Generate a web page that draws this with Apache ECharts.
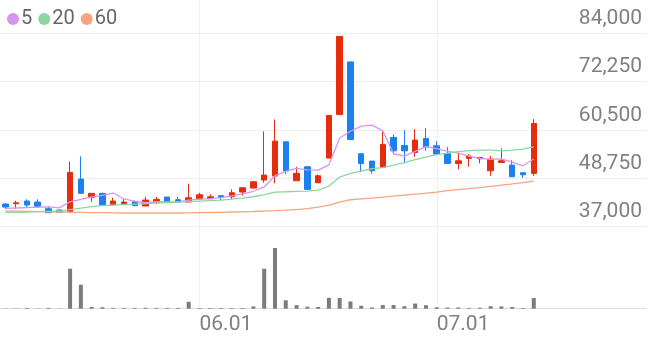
<!DOCTYPE html>
<html><head><meta charset="utf-8">
<script src="https://cdn.jsdelivr.net/npm/echarts@6/dist/echarts.min.js"></script>
<style>html,body{margin:0;padding:0;background:#fff}#c{width:647px;height:337px}</style>
</head><body><div id="c"></div>
<script>
const dates = ['05.04','05.06','05.07','05.10','05.11','05.12','05.13','05.14','05.17','05.18','05.20','05.21','05.24','05.25','05.26','05.27','05.28','05.31',
'06.01','06.02','06.03','06.04','06.07','06.08','06.09','06.10','06.11','06.14','06.15','06.16','06.17','06.18','06.21','06.22','06.23','06.24','06.25','06.28','06.29','06.30',
'07.01','07.02','07.05','07.06','07.07','07.08','07.09','07.12','07.13','07.14'];
const futureDates = ['07.15','07.16','07.19','07.20','07.21','07.22','07.23','07.26','07.27','07.28'];
const openP  = [42360,42440,43100,42850,41220,40900,40490,48460,44000,44970,42190,42440,42920,41880,42850,44070,43410,42850,43580,43660,44390,44140,45290,46260,48220,49190,57550,48040,51460,47560,53580,64200,77060,54630,52850,51310,58620,56670,54970,58380,56580,54720,52290,53500,53410,50480,52530,51870,50000,49850];
const closeP = [41630,42680,42120,41800,40240,40340,50090,44970,44970,42120,43100,42850,41950,43340,43510,42920,42850,43900,44630,44140,44000,45120,46340,47800,49430,57720,50480,49850,45950,49260,63990,83300,58140,52290,50480,56920,55360,55360,57970,56330,54550,52290,52920,54070,53740,53330,52920,49020,49510,62040];
const lowP   = [41140,41140,41560,41390,40170,40340,40340,44970,42920,42120,42190,42440,41950,41880,42440,42920,42850,42850,43580,43660,43340,43510,44390,46260,47560,47410,49680,48040,45950,47560,53580,64200,58140,50170,49750,51310,54480,52290,53900,55360,54550,52290,50820,51460,52290,49260,52530,49020,48700,49260];
const highP  = [42600,43170,43510,43510,41880,40970,52770,54000,44970,45120,43900,43580,43260,44070,44070,44070,44070,47310,45120,44730,44560,45950,46420,47880,60090,63010,57550,51460,51700,49600,64000,83300,77060,54630,52850,59990,59360,60400,60650,60890,57720,56330,54870,54550,53740,54070,55940,53090,50000,63090];
const volume = [3000,3000,8000,3000,8000,3000,405000,243000,18000,15000,8000,8000,8000,10000,8000,8000,8000,70000,7000,7000,7000,7000,7000,23000,405000,615000,85000,36000,20000,17000,110000,108000,73000,30000,13000,37000,37000,25000,52000,35000,15000,12000,13000,8000,10000,25000,23000,18000,7000,108000];
const ma5  = [41300,41400,41500,41600,41694,41436,42918,43488,44122,44498,45050,43602,42998,42672,42950,42914,42914,43304,43562,43688,43904,44358,44846,45480,46538,49282,50354,51056,50686,50652,51906,58470,60128,61396,61640,60226,54638,54082,55218,56388,55914,55300,54812,54032,53514,53270,53396,52616,51704,53364];
const ma20 = [40243,40340,40413,40486,40584,40657,41023,41388,41754,41998,42120,42242,42364,42486,42607,42729,42851,42973,43095,43217,43339,43583,43826,44143,44680,45289,45362,45460,45533,45777,46752,48946,49848,50409,51019,51262,51872,52481,53213,53822,54432,54797,55163,55407,55529,55529,55358,55529,55773,56333];
const ma60 = [40657,40608,40559,40511,40462,40413,40364,40316,40267,40243,40218,40169,40169,40169,40169,40169,40169,40194,40243,40291,40340,40413,40462,40535,40633,40730,40852,41023,41267,41632,42120,42851,43412,43632,43826,44070,44314,44558,44802,45045,45289,45655,45899,46143,46387,46679,46996,47288,47605,47971];
const priceTicks = [37000,48750,60500,72250,84000];
const xTickLabels = ['06.01','07.01'];

const cats = dates.concat(futureDates);
const candleData = dates.map((d,i)=>[openP[i],closeP[i],lowP[i],highP[i]]);
const UP='#e62c0c', DOWN='#1b80f0';
const FONT='Roboto, "Noto Sans", sans-serif';
const chart = echarts.init(document.getElementById('c'), null, {renderer:'canvas'});
const showTick = (i,v)=>xTickLabels.indexOf(v)>=0;
chart.setOption({
  animation:false,
  legend:{left:2,top:4,icon:'circle',itemWidth:12,itemHeight:12,itemGap:6,
    textStyle:{fontSize:20,color:'#666',fontFamily:FONT,padding:[0,0,0,-3]},
    data:['5','20','60']},
  grid:[
    {left:0,right:0,top:33.5,height:192.5},
    {left:0,right:0,top:248,height:60.7},
    {left:5.7,right:5.5,top:0,height:308.7}
  ],
  xAxis:[
    {type:'category',gridIndex:0,data:cats,boundaryGap:true,axisLine:{show:false},axisTick:{show:false},axisLabel:{show:false},splitLine:{show:false}},
    {type:'category',gridIndex:1,data:cats,boundaryGap:true,axisLine:{show:true,lineStyle:{color:'#dddddd'}},axisTick:{show:false},
      axisLabel:{show:true,interval:showTick,align:'left',fontSize:21,color:'#808080',fontFamily:FONT,margin:6},splitLine:{show:false}},
    {type:'category',gridIndex:2,data:cats,boundaryGap:false,axisLine:{show:false},axisTick:{show:false},axisLabel:{show:false},
      splitLine:{show:true,interval:showTick,lineStyle:{color:'#efefef',width:1}}}
  ],
  yAxis:[
    {type:'value',gridIndex:0,position:'right',min:priceTicks[0],max:priceTicks[priceTicks.length-1],interval:priceTicks[1]-priceTicks[0],
      axisLine:{show:false},axisTick:{show:false},
      axisLabel:{inside:true,fontSize:21,color:'#808080',fontFamily:FONT,verticalAlign:'bottom',margin:5,padding:[0,0,4,0],
        formatter:v=>Math.round(v).toLocaleString('en-US')},
      splitLine:{show:true,lineStyle:{color:'#efefef',width:1}}},
    {type:'value',gridIndex:1,min:0,max:Math.max(...volume),show:false,splitLine:{show:false}},
    {type:'value',gridIndex:2,show:false,splitLine:{show:false}}
  ],
  series:[
    {type:'candlestick',name:'price',xAxisIndex:0,yAxisIndex:0,data:candleData,barWidth:6,
      itemStyle:{color:UP,color0:DOWN,borderColor:UP,borderColor0:DOWN,borderWidth:1}},
    {type:'line',name:'5',xAxisIndex:0,yAxisIndex:0,data:ma5,symbol:'none',color:'#d795f2',lineStyle:{width:1.3,color:'#d795f2'}},
    {type:'line',name:'20',xAxisIndex:0,yAxisIndex:0,data:ma20,symbol:'none',color:'#8ad89f',lineStyle:{width:1.3,color:'#8ad89f'}},
    {type:'line',name:'60',xAxisIndex:0,yAxisIndex:0,data:ma60,symbol:'none',color:'#f7a57f',lineStyle:{width:1.3,color:'#f7a57f'}},
    {type:'bar',name:'vol',xAxisIndex:1,yAxisIndex:1,data:volume,barWidth:4,itemStyle:{color:'#7b7b7b'}}
  ]
});
</script></body></html>
